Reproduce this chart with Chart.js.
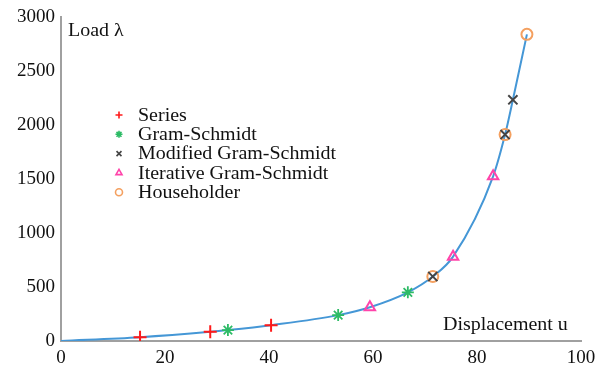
<!DOCTYPE html>
<html>
<head>
<meta charset="utf-8">
<script src="https://cdn.jsdelivr.net/npm/chart.js@4/dist/chart.umd.min.js"></script>
<style>
  html, body { margin: 0; padding: 0; background: #fff; }
  #wrap { width: 608px; height: 372px; }
</style>
</head>
<body>
<div id="wrap"><canvas id="chart" width="608" height="372"></canvas></div>
<script>
// values
const curveU = [0, 15.2, 28.7, 32.1, 40.4, 53.3, 59.4, 66.7, 71.5, 75.4, 83.1, 85.4, 86.9, 89.6];
const curveLoad = [0, 35, 85, 101, 147, 240, 313, 451, 598, 782, 1527, 1914, 2236, 2843];

const seriesU = [15.2, 28.7, 40.4];
const seriesLoad = [35, 85, 147];
const gramU = [32.1, 53.3, 66.7];
const gramLoad = [101, 240, 451];
const modU = [71.5, 85.4, 86.9];
const modLoad = [598, 1914, 2236];
const iterU = [59.4, 75.4, 83.1];
const iterLoad = [313, 782, 1527];
const houseU = [71.5, 85.4, 89.6];
const houseLoad = [598, 1914, 2843];

const names = ["Series", "Gram-Schmidt", "Modified Gram-Schmidt", "Iterative Gram-Schmidt", "Householder"];
const xTitle = "Displacement u";
const yTitle = "Load \u03bb";

const FONT = "'Liberation Serif', 'Times New Roman', serif";

function pts(us, ls) {
  return us.map((u, i) => ({ x: u, y: ls[i] }));
}

const markerDefs = [
  { style: "cross", color: "#ff1a1a", r: 6.5, w: 2 },
  { style: "star", color: "#2dbb66", r: 6, w: 1.8 },
  { style: "crossRot", color: "#444444", r: 6.5, w: 2 },
  { style: "triangle", color: "#ff44aa", r: 6, w: 2 },
  { style: "circle", color: "#f4a060", r: 5.5, w: 2 },
];
const markerData = [
  pts(seriesU, seriesLoad),
  pts(gramU, gramLoad),
  pts(modU, modLoad),
  pts(iterU, iterLoad),
  pts(houseU, houseLoad),
];

const datasets = markerDefs.map((m, i) => ({
  type: "scatter",
  label: names[i],
  data: markerData[i],
  pointStyle: m.style,
  pointRadius: m.r,
  pointBorderColor: m.color,
  pointBackgroundColor: "rgba(0,0,0,0)",
  pointBorderWidth: m.w,
  showLine: false,
}));

datasets.push({
  type: "line",
  label: "curve",
  data: pts(curveU, curveLoad),
  borderColor: "#4597d6",
  borderWidth: 2,
  pointRadius: 0,
  cubicInterpolationMode: "monotone",
  fill: false,
});

// text drawn a little wider than normal, like the reference
function wideText(ctx, txt, x, y) {
  ctx.save();
  ctx.translate(x, y);
  ctx.scale(1.11, 1);
  ctx.fillText(txt, 0, 0);
  ctx.restore();
}

// legend and axis titles drawn inside the plot
const overlay = {
  id: "overlay",
  afterDraw(chart) {
    const ctx = chart.ctx;
    ctx.save();
    ctx.fillStyle = "#111";
    ctx.font = "18px " + FONT;
    ctx.textBaseline = "middle";
    ctx.textAlign = "left";
    wideText(ctx, yTitle, 68, 31);
    wideText(ctx, xTitle, 443, 325);

    names.forEach((n, i) => {
      const y = 115 + i * 19.3;
      const m = markerDefs[i];
      ctx.strokeStyle = m.color;
      ctx.fillStyle = "rgba(0,0,0,0)";
      ctx.lineWidth = 1.6;
      Chart.helpers.drawPoint(ctx, { pointStyle: m.style, radius: 3.5, borderWidth: 1.6, rotation: 0 }, 119, y);
      ctx.fillStyle = "#111";
      wideText(ctx, n, 138, y + 1);
    });
    ctx.restore();
  },
};

const tickFont = { family: FONT, size: 19 };

new Chart(document.getElementById("chart").getContext("2d"), {
  data: { datasets: datasets },
  options: {
    responsive: false,
    animation: false,
    layout: { padding: { top: 15, right: 27, left: 0, bottom: 0 } },
    plugins: {
      legend: { display: false },
      tooltip: { enabled: false },
    },
    scales: {
      x: {
        type: "linear",
        min: 0,
        max: 100,
        grid: { display: false, drawTicks: false },
        border: { display: true, color: "#a0a0a0", width: 2 },
        ticks: { stepSize: 20, padding: 6, color: "#111", font: tickFont },
        afterFit(scale) { scale.height = 31; },
      },
      y: {
        type: "linear",
        min: 0,
        max: 3000,
        grid: { display: false, drawTicks: false },
        border: { display: true, color: "#a0a0a0", width: 2 },
        ticks: {
          stepSize: 500,
          padding: 6,
          color: "#111",
          font: tickFont,
          callback: (v) => String(v),
        },
        afterFit(scale) { scale.width = 61; },
      },
    },
  },
  plugins: [overlay],
});
</script>
</body>
</html>
